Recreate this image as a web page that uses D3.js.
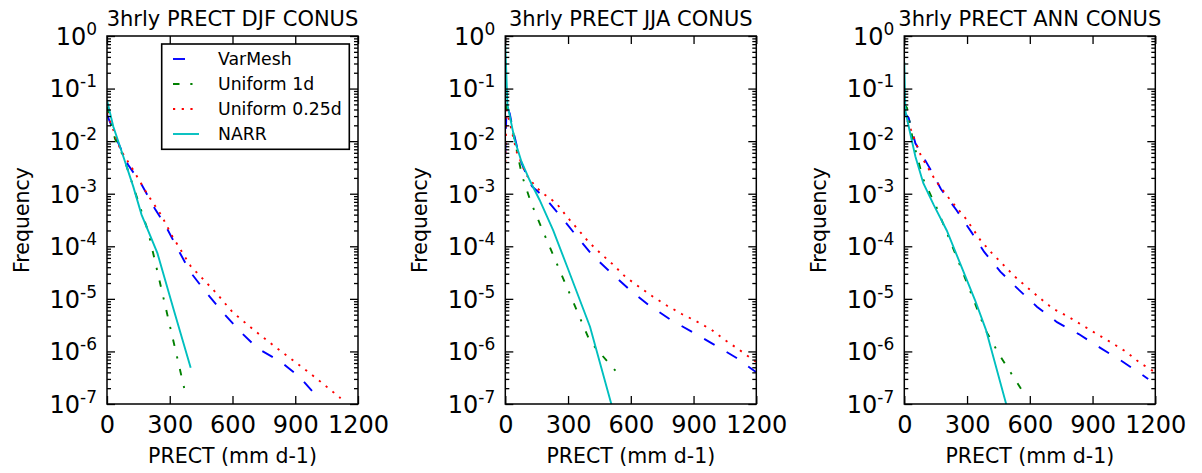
<!DOCTYPE html>
<html lang="en">
<head>
<meta charset="UTF-8">
<script src="https://d3js.org/d3.v7.min.js"></script>
<title>3hrly PRECT CONUS</title>
<style>
  body { margin: 0; background: #fff; }
  svg text { font-family: "DejaVu Sans", sans-serif; fill: #000; }
</style>
</head>
<body>
<div id="chart"></div>
<script>
// ---- data: [PRECT (mm/d), frequency] ----
const djfVarMesh = [[0,3.2e-2],[50,1.0e-2],[100,3.6e-3],[166,1.48e-3],[229,5.2e-4],[277,2.6e-4],[341,8.5e-5],[397,3.3e-5],[476,1.29e-5],[556,5.4e-6],[636,2.4e-6],[723,1.12e-6],[827,6.5e-7],[923,3.2e-7],[1005,1.38e-7]];
const djfUniform1d = [[0,4.5e-2],[38,1.12e-2],[70,6.0e-3],[94,3.3e-3],[139,9.5e-4],[197,1.9e-4],[290,4.7e-6],[380,1.3e-7]];
const djfUniform025 = [[0,3.5e-2],[65,6.8e-3],[126,2.8e-3],[190,1.02e-3],[258,4.0e-4],[314,1.51e-4],[400,4.2e-5],[520,1.32e-5],[600,5.6e-6],[700,2.6e-6],[800,1.26e-6],[900,6.3e-7],[1000,3.1e-7],[1117,1.29e-7]];
const djfNarr = [[0,6.0e-2],[30,1.9e-2],[78,5.1e-3],[126,1.35e-3],[165,4.0e-4],[241,7.4e-5],[320,6.0e-6],[400,4.9e-7]];

const jjaVarMesh = [[0,5.5e-3],[6,4.5e-2],[21,3.4e-2],[37,1.62e-2],[69,4.7e-3],[108,1.95e-3],[128,1.38e-3],[190,8.3e-4],[268,3.6e-4],[344,1.51e-4],[419,6.6e-5],[507,3.1e-5],[595,1.48e-5],[690,7.4e-6],[791,4.0e-6],[897,2.3e-6],[998,1.35e-6],[1104,7.6e-7],[1200,4.0e-7]];
const jjaUniform1d = [[0,5.2e-2],[26,2.5e-2],[53,7.2e-3],[80,2.2e-3],[121,7.1e-4],[182,1.86e-4],[300,1.48e-5],[405,1.55e-6],[546,3.5e-7]];
const jjaUniform025 = [[0,4.0e-3],[6,4.0e-2],[37,1.23e-2],[54,6.3e-3],[100,2.3e-3],[148,1.32e-3],[180,1.02e-3],[244,6.6e-4],[296,3.6e-4],[347,2.1e-4],[399,1.2e-4],[459,7.1e-5],[515,4.5e-5],[575,2.6e-5],[639,1.7e-5],[706,1.1e-5],[774,7.4e-6],[846,5.1e-6],[916,3.7e-6],[985,2.6e-6],[1049,1.66e-6],[1112,1.12e-6],[1179,7.2e-7],[1200,6.3e-7]];
const jjaNarr = [[0,0.7],[10,5.0e-2],[45,1.05e-2],[77,4.1e-3],[116,1.82e-3],[164,7.6e-4],[229,2.0e-4],[300,3.7e-5],[405,2.95e-6],[510,9.0e-8]];

const annVarMesh = [[0,3.5e-2],[21,2.75e-2],[53,9.1e-3],[123,3.0e-3],[175,1.23e-3],[249,4.9e-4],[324,1.78e-4],[382,7.8e-5],[459,3.3e-5],[548,1.48e-5],[634,7.1e-6],[730,3.6e-6],[834,2.14e-6],[937,1.17e-6],[1041,6.5e-7],[1166,3.0e-7]];
const annUniform1d = [[0,5.0e-2],[13,4.3e-2],[42,1.0e-2],[90,1.9e-3],[153,5.6e-4],[204,1.78e-4],[284,2.9e-5],[387,2.6e-6],[454,8.7e-7],[576,1.5e-7]];
const annUniform025 = [[0,3.5e-2],[80,5.2e-3],[148,1.82e-3],[220,7.6e-4],[296,3.3e-4],[363,1.32e-4],[419,7.4e-5],[472,4.5e-5],[531,2.6e-5],[587,1.66e-5],[650,1.02e-5],[711,6.5e-6],[783,4.6e-6],[854,3.1e-6],[921,2.14e-6],[993,1.45e-6],[1061,9.8e-7],[1128,6.0e-7],[1200,4.0e-7]];
const annNarr = [[0,0.32],[5,3.8e-2],[21,1.9e-2],[53,5.1e-3],[91,1.58e-3],[140,6.2e-4],[203,2.0e-4],[338,9.5e-6],[390,2.6e-6],[487,1.0e-7]];

const panelTitles = ["3hrly PRECT DJF CONUS", "3hrly PRECT JJA CONUS", "3hrly PRECT ANN CONUS"];
const seriesNames = ["VarMesh", "Uniform 1d", "Uniform 0.25d", "NARR"];
const xTicks = [0, 300, 600, 900, 1200];
const yExponents = [-7, -6, -5, -4, -3, -2, -1, 0];
const panelData = [
  [djfVarMesh, djfUniform1d, djfUniform025, djfNarr],
  [jjaVarMesh, jjaUniform1d, jjaUniform025, jjaNarr],
  [annVarMesh, annUniform1d, annUniform025, annNarr]
];

// ---- styles / layout ----
const colors = ["#0000ff", "#008000", "#ff0000", "#00bfbf"];
const dashes = ["12,14", "6.5,10.8,2.2,10.8", "2.2,6.5", null];
const width = 1202, height = 473;
const plotLefts = [107, 505.3, 904.3];
const plotW = 251, plotTop = 36, plotBottom = 404;

const yTicks = yExponents.map(e => Math.pow(10, e));
const yMinor = [];
yExponents.slice(0, -1).forEach(e => d3.range(2, 10).forEach(k => yMinor.push(k * Math.pow(10, e))));

const svg = d3.select("#chart").append("svg")
  .attr("width", width)
  .attr("height", height)
  .attr("viewBox", [0, 0, width, height]);

function styleAxis(g) {
  g.select(".domain").remove();
  g.selectAll(".tick line").attr("stroke", "#000").attr("stroke-width", 1.3);
  g.attr("font-family", null).attr("font-size", null);
}

function drawPanel(p) {
  const x0 = plotLefts[p];
  const x = d3.scaleLinear().domain([0, 1200]).range([x0, x0 + plotW]);
  const y = d3.scaleLog().domain([1e-7, 1]).range([plotBottom, plotTop]);
  const g = svg.append("g");

  g.append("clipPath").attr("id", "clip" + p)
    .append("rect")
    .attr("x", x0).attr("y", plotTop)
    .attr("width", plotW).attr("height", plotBottom - plotTop);

  const line = d3.line().x(d => x(d[0])).y(d => y(d[1]));

  g.append("g").attr("clip-path", `url(#clip${p})`)
    .selectAll("path")
    .data(panelData[p])
    .join("path")
    .attr("d", line)
    .attr("fill", "none")
    .attr("stroke", (d, i) => colors[i])
    .attr("stroke-width", 1.9)
    .attr("stroke-dasharray", (d, i) => dashes[i]);

  // left axis with 10^n labels
  g.append("g")
    .attr("transform", `translate(${x0},0)`)
    .call(d3.axisLeft(y).tickValues(yTicks).tickSize(-8).tickSizeOuter(0).tickPadding(10).tickFormat(""))
    .call(styleAxis)
    .call(a => a.selectAll(".tick text")
      .attr("font-size", 24)
      .attr("dy", "0.35em")
      .each(function (d) {
        const t = d3.select(this);
        t.text("10");
        t.append("tspan")
          .attr("dy", "-0.6em")
          .attr("font-size", 17)
          .text(Math.round(Math.log10(d)));
      }));
  g.append("g")
    .attr("transform", `translate(${x0},0)`)
    .call(d3.axisLeft(y).tickValues(yMinor).tickSize(-4).tickSizeOuter(0).tickFormat(""))
    .call(styleAxis);

  // right axis
  g.append("g")
    .attr("transform", `translate(${x0 + plotW},0)`)
    .call(d3.axisRight(y).tickValues(yTicks).tickSize(-8).tickSizeOuter(0).tickFormat(""))
    .call(styleAxis);
  g.append("g")
    .attr("transform", `translate(${x0 + plotW},0)`)
    .call(d3.axisRight(y).tickValues(yMinor).tickSize(-4).tickSizeOuter(0).tickFormat(""))
    .call(styleAxis);

  // bottom / top axes
  g.append("g")
    .attr("transform", `translate(0,${plotBottom})`)
    .call(d3.axisBottom(x).tickValues(xTicks).tickSize(-8).tickSizeOuter(0).tickPadding(12).tickFormat(d3.format("d")))
    .call(styleAxis)
    .call(a => a.selectAll(".tick text").attr("font-size", 24));
  g.append("g")
    .attr("transform", `translate(0,${plotTop})`)
    .call(d3.axisTop(x).tickValues(xTicks).tickSize(-8).tickSizeOuter(0).tickFormat(""))
    .call(styleAxis);

  // frame
  g.append("rect")
    .attr("x", x0).attr("y", plotTop)
    .attr("width", plotW).attr("height", plotBottom - plotTop)
    .attr("fill", "none")
    .attr("stroke", "#000")
    .attr("stroke-width", 1.5);

  g.append("text")
    .attr("x", x0 + plotW / 2).attr("y", 26)
    .attr("text-anchor", "middle")
    .attr("font-size", 21)
    .text(panelTitles[p]);

  g.append("text")
    .attr("x", x0 + plotW / 2).attr("y", 463)
    .attr("text-anchor", "middle")
    .attr("font-size", 20.5)
    .text("PRECT (mm d-1)");

  g.append("text")
    .attr("transform", `translate(${x0 - 85},${(plotTop + plotBottom) / 2}) rotate(-90)`)
    .attr("text-anchor", "middle")
    .attr("dy", "0.35em")
    .attr("font-size", 20.5)
    .text("Frequency");

  if (p === 0) {
    const lg = g.append("g");
    lg.append("rect")
      .attr("x", 161.7).attr("y", 44)
      .attr("width", 187.6).attr("height", 105.3)
      .attr("fill", "#fff")
      .attr("stroke", "#000")
      .attr("stroke-width", 1.6);
    const item = lg.selectAll("g.item")
      .data(seriesNames)
      .join("g")
      .attr("class", "item")
      .attr("transform", (d, i) => `translate(0,${59 + i * 25})`);
    item.append("line")
      .attr("x1", 173).attr("x2", 199)
      .attr("stroke", (d, i) => colors[i])
      .attr("stroke-width", 1.9)
      .attr("stroke-dasharray", (d, i) => dashes[i]);
    item.append("text")
      .attr("x", 218)
      .attr("dy", "0.35em")
      .attr("font-size", 17.3)
      .text(d => d);
  }
}

panelData.forEach((d, p) => drawPanel(p));
</script>
</body>
</html>
